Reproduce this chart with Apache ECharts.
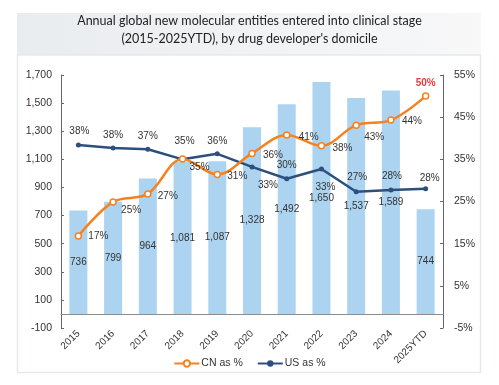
<!DOCTYPE html>
<html><head><meta charset="utf-8">
<script src="https://cdn.jsdelivr.net/npm/echarts@6/dist/echarts.min.js"></script>
<style>html,body{margin:0;padding:0;background:#fff}#c{width:499px;height:385px}</style>
</head><body><div id="c"></div>
<script>
const categories = ['2015','2016','2017','2018','2019','2020','2021','2022','2023','2024','2025YTD'];
const nmeCounts = [736, 799, 964, 1081, 1087, 1328, 1492, 1650, 1537, 1589, 744];
const cnShare = [16.8, 24.9, 26.8, 35.1, 31.4, 36.4, 40.8, 38.2, 43.1, 44.3, 50.0];
const usShare = [38.4, 37.7, 37.4, 35.0, 36.3, 33.2, 30.4, 32.7, 27.3, 27.7, 28.0];
const leftTicks = {min: -100, max: 1700, interval: 200};
const rightTicks = {min: -5, max: 55, interval: 10};

// label placement (offsets from point centre, px)
const cnOff = [[20,0],[18,8],[20,2],[17,8],[20,2],[21,2],[22,2],[21,2],[18,12],[21,1],[0,-13]];
const usOff = [[1,-14],[0,-13],[0,-13],[2,-18],[0,-13],[16,18],[0,-13],[4,18],[1,-15],[1,-14],[4,-11]];

const chart = echarts.init(document.getElementById('c'), null, {renderer:'canvas'});
const lblFont = 'Liberation Sans, Arial, sans-serif';
const fmtPct = v => Math.round(v) + '%';

const cnData = cnShare.map((v,i) => {
  const item = {value: v, label: {offset: cnOff[i]}};
  if (i === cnShare.length-1) item.label = {offset: cnOff[i], color:'#f23a3a', fontWeight:'bold'};
  return item;
});
const usData = usShare.map((v,i) => ({value: v, label: {offset: usOff[i]}}));

chart.setOption({
  animation: false,
  backgroundColor: '#fff',
  graphic: [
    {type:'rect', shape:{x:17, y:13, width:464, height:42}, z:-10,
     style:{fill:{type:'linear', x:0, y:0, x2:1, y2:0, colorStops:[{offset:0,color:'#e9ecef'},{offset:1,color:'#f8f8f9'}]}}},
    {type:'rect', shape:{x:17.5, y:55, width:463, height:317.5}, z:-10,
     style:{fill:'#fff', stroke:'#e6e9ec', lineWidth:1.5}},
    {type:'text', left:'center', top:12, z:10,
     style:{text:"Annual global new molecular entities entered into clinical stage\n(2015-2025YTD), by drug developer's domicile",
            font:'12.5px Lato', fill:'#222', textAlign:'center', lineHeight:18}}
  ],
  grid: {left: 61, right: 56, top: 75, bottom: 57},
  legend: {
    bottom: 11, left: 'center', itemWidth: 25, itemHeight: 8, itemGap: 14,
    data: ['CN as %', 'US as %'],
    textStyle: {fontFamily: lblFont, fontSize: 10.5, color: '#333', padding:[0,0,0,-3]}
  },
  xAxis: [
    {type:'category', data: categories, position:'bottom',
     axisLine:{show:false}, axisTick:{show:false},
     axisLabel:{rotate:45, margin:4, fontFamily:lblFont, fontSize:10, color:'#333', interval:0}},
    {type:'category', data: categories, position:'bottom',
     axisLine:{show:true, onZero:true, onZeroAxisIndex:0, lineStyle:{color:'#8c8c8c', width:1}},
     axisTick:{show:false}, axisLabel:{show:false}}
  ],
  yAxis: [
    {type:'value', min:leftTicks.min, max:leftTicks.max, interval:leftTicks.interval, position:'left',
     axisLine:{show:true, lineStyle:{color:'#666'}}, axisTick:{show:true, inside:true, length:3, lineStyle:{color:'#666'}},
     splitLine:{show:false},
     axisLabel:{margin:9, fontFamily:lblFont, fontSize:10.5, color:'#333', formatter: v => v.toLocaleString('en-US')}},
    {type:'value', min:rightTicks.min, max:rightTicks.max, interval:rightTicks.interval, position:'right',
     axisLine:{show:true, lineStyle:{color:'#666'}}, axisTick:{show:true, inside:true, length:3, lineStyle:{color:'#666'}},
     splitLine:{show:false},
     axisLabel:{margin:11, fontFamily:lblFont, fontSize:10.5, color:'#333', formatter: v => v + '%'}}
  ],
  series: [
    {name:'NMEs', type:'bar', xAxisIndex:1, yAxisIndex:0, data: nmeCounts, barWidth:18,
     itemStyle:{color:'#acd3f0'},
     label:{show:true, position:'inside', fontFamily:lblFont, fontSize:10, color:'#333',
            formatter: p => p.value.toLocaleString('en-US')}, z:1},
    {name:'CN as %', type:'line', xAxisIndex:1, yAxisIndex:1, data: cnData, smooth:0.35,
     symbol:'circle', symbolSize:6,
     lineStyle:{color:'#f5821f', width:2.5},
     itemStyle:{color:'#fff', borderColor:'#f5821f', borderWidth:1.5},
     label:{show:true, position:'inside', fontFamily:lblFont, fontSize:10, color:'#333', formatter: p => fmtPct(p.value)}, z:4},
    {name:'US as %', type:'line', xAxisIndex:1, yAxisIndex:1, data: usData,
     symbol:'circle', symbolSize:5,
     lineStyle:{color:'#2d4f7d', width:2.5},
     itemStyle:{color:'#2d4f7d'},
     label:{show:true, position:'inside', fontFamily:lblFont, fontSize:10, color:'#333', formatter: p => fmtPct(p.value)}, z:3}
  ]
});
</script></body></html>
